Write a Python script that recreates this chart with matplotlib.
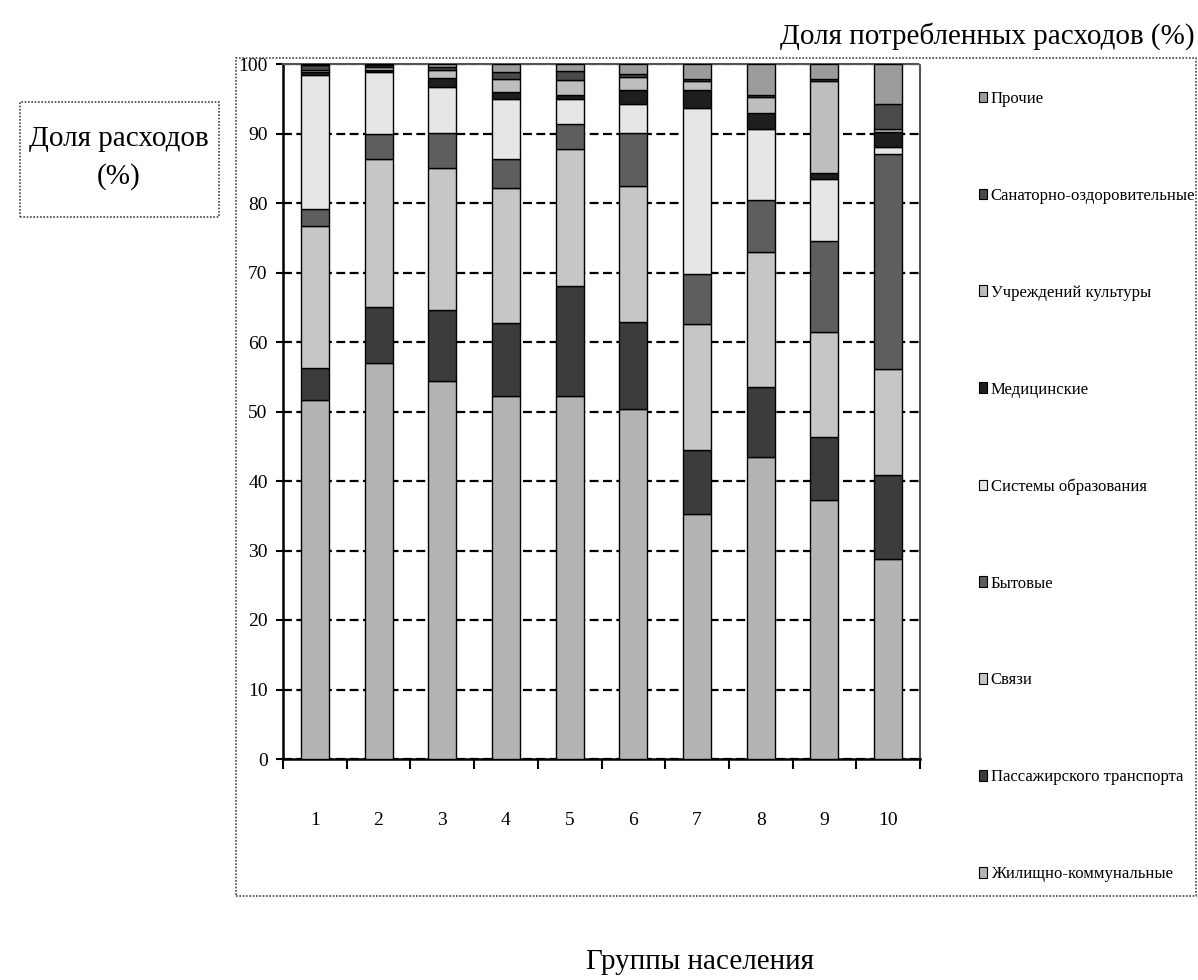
import numpy as np
import matplotlib
matplotlib.use("Agg")
import matplotlib.pyplot as plt
from matplotlib.patches import Rectangle, Patch

plt.rcParams['font.family'] = ['Liberation Serif', 'DejaVu Serif']

# population groups
groups = ['1', '2', '3', '4', '5', '6', '7', '8', '9', '10']

# expense categories, bottom to top of each bar
categories = ['Жилищно-коммунальные', 'Пассажирского транспорта', 'Связи', 'Бытовые',
              'Системы образования', 'Медицинские', 'Учреждений культуры',
              'Санаторно-оздоровительные', 'Прочие']

# shares (%) per group, one list per category
housing    = [51.6, 57.0, 54.4, 52.3, 52.3, 50.3, 35.3, 43.4, 37.3, 28.8]
transport  = [4.7, 8.1, 10.2, 10.4, 15.8, 12.6, 9.1, 10.1, 9.0, 12.1]
telecom    = [20.4, 21.2, 20.4, 19.4, 19.6, 19.6, 18.2, 19.5, 15.2, 15.2]
household  = [2.4, 3.6, 5.1, 4.2, 3.6, 7.6, 7.2, 7.5, 13.0, 31.0]
education  = [19.3, 8.9, 6.6, 8.7, 3.7, 4.2, 23.8, 10.2, 9.0, 1.0]
medical    = [0.5, 0.3, 1.3, 1.0, 0.6, 1.9, 2.6, 2.2, 0.8, 2.1]
culture    = [0.3, 0.4, 1.2, 1.9, 2.1, 1.9, 1.4, 2.4, 13.2, 0.5]
sanatorium = [0.6, 0.3, 0.3, 0.9, 1.3, 0.5, 0.3, 0.3, 0.4, 3.6]
other      = [0.2, 0.2, 0.5, 1.2, 1.0, 1.4, 2.1, 4.4, 2.1, 5.7]

series = [housing, transport, telecom, household, education,
          medical, culture, sanatorium, other]
colors = ['#b4b4b4', '#3c3c3c', '#c6c6c6', '#5e5e5e', '#e6e6e6',
          '#1e1e1e', '#bebebe', '#4a4a4a', '#9c9c9c']

W, H = 1198, 980
fig = plt.figure(figsize=(W / 100, H / 100), dpi=100)
fig.patch.set_facecolor('white')

# outer dotted chart frame
fig.patches.append(Rectangle((236 / W, 1 - 896 / H), (1196 - 236) / W, (896 - 58) / H,
                             transform=fig.transFigure, fill=False,
                             edgecolor='#444444', linestyle=(0, (1, 1)), linewidth=1.2))

ax = fig.add_axes([283 / W, 1 - 759 / H, (920 - 283) / W, (759 - 64) / H])

x = np.arange(1, len(groups) + 1)
bottom = np.zeros(len(groups))
for vals, col, name in zip(series, colors, categories):
    ax.bar(x, vals, width=0.44, bottom=bottom, color=col, edgecolor='black',
           linewidth=1.0, label=name, zorder=3)
    bottom += np.array(vals)

ax.set_xlim(0.5, 10.5)
ax.set_ylim(0, 100)
ax.set_yticks(np.arange(0, 101, 10))
ax.set_xticks(x)
ax.set_xticklabels(groups)
ax.set_xticks(np.arange(0.5, 11, 1), minor=True)
ax.tick_params(axis='x', which='major', length=0, pad=38, labelsize=14)
ax.tick_params(axis='x', which='minor', length=7, width=1.5, direction='out')
ax.tick_params(axis='y', length=5, width=1.5, direction='out', pad=6, labelsize=14)

ax.yaxis.grid(True, color='black', linestyle=(0, (4, 2)), linewidth=1.6, zorder=0)
ax.set_axisbelow(True)

ax.spines['left'].set_linewidth(1.8)
ax.spines['bottom'].set_linewidth(1.8)
for s in ['top', 'right']:
    ax.spines[s].set_color('#555555')
    ax.spines[s].set_linestyle((0, (1, 1)))
    ax.spines[s].set_linewidth(1.5)

# legend, top entry first
handles = [Patch(facecolor=c, edgecolor='black', linewidth=0.8) for c in colors][::-1]
fig.legend(handles, categories[::-1], loc='upper left',
           bbox_to_anchor=(979 / W, 1 - 91 / H), frameon=False,
           handlelength=0.5, handleheight=0.6, handletextpad=0.2,
           labelspacing=4.85, borderpad=0, borderaxespad=0, fontsize=12)

fig.text(1195 / W, 1 - 36 / H, 'Доля потребленных расходов (%)', ha='right', va='center',
         fontsize=21)

# y-axis caption in a box
fig.patches.append(Rectangle((20 / W, 1 - 217 / H), (219 - 20) / W, (217 - 102) / H,
                             transform=fig.transFigure, fill=False,
                             edgecolor='#444444', linestyle=(0, (1, 1)), linewidth=1.2))
fig.text(119 / W, 1 - 158 / H, 'Доля расходов\n(%)', ha='center', va='center',
         fontsize=21, linespacing=1.55)

fig.text(700 / W, 1 - 962 / H, 'Группы населения', ha='center', va='center', fontsize=21)

fig.savefig('out.png', dpi=100, facecolor='white')
